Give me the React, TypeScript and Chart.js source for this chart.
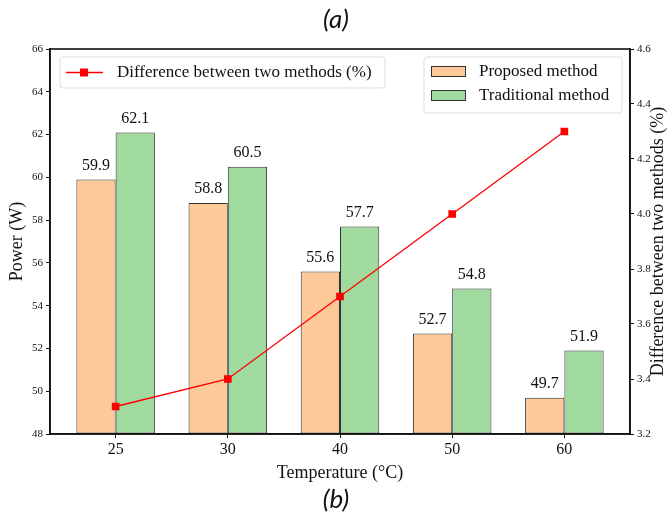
import React, { useEffect, useRef } from "react";
import { Chart, registerables } from "chart.js";

Chart.register(...registerables);

const categories = ["25", "30", "40", "50", "60"];
const proposed = [59.9, 58.8, 55.6, 52.7, 49.7];
const traditional = [62.1, 60.5, 57.7, 54.8, 51.9];
const difference = [3.3, 3.4, 3.7, 4.0, 4.3];
const leftTicks = [48, 50, 52, 54, 56, 58, 60, 62, 64, 66];
const rightTicks = [3.2, 3.4, 3.6, 3.8, 4.0, 4.2, 4.4, 4.6];

const ORANGE = "#fdc998";
const GREEN = "#a0da9e";
const EDGE = "#333333";
const RED = "#ff0000";
const SERIF = "'Liberation Serif', 'Times New Roman', serif";
const RIGHT_TITLE = "Difference between two methods (%)";

const decorPlugin = {
  id: "decor",
  afterDatasetsDraw(chart: any) {
    const ctx = chart.ctx;
    const ca = chart.chartArea;
    ctx.save();
    ctx.font = `16px ${SERIF}`;
    ctx.fillStyle = "#111";
    ctx.textAlign = "center";
    ctx.textBaseline = "bottom";
    [0, 1].forEach((di) => {
      const meta = chart.getDatasetMeta(di);
      const vals = di === 0 ? proposed : traditional;
      meta.data.forEach((el: any, i: number) => {
        ctx.fillText(vals[i].toFixed(1), el.x, el.y - 6);
      });
    });
    ctx.restore();
    ctx.save();
    ctx.strokeStyle = "#111";
    ctx.lineWidth = 1.6;
    ctx.strokeRect(ca.left, ca.top, ca.right - ca.left, ca.bottom - ca.top);
    ctx.restore();
  },
  afterDraw(chart: any) {
    const ctx = chart.ctx;
    const ca = chart.chartArea;
    const rr = (x: number, y: number, w: number, h: number, r: number) => {
      ctx.beginPath();
      ctx.moveTo(x + r, y);
      ctx.lineTo(x + w - r, y);
      ctx.quadraticCurveTo(x + w, y, x + w, y + r);
      ctx.lineTo(x + w, y + h - r);
      ctx.quadraticCurveTo(x + w, y + h, x + w - r, y + h);
      ctx.lineTo(x + r, y + h);
      ctx.quadraticCurveTo(x, y + h, x, y + h - r);
      ctx.lineTo(x, y + r);
      ctx.quadraticCurveTo(x, y, x + r, y);
      ctx.closePath();
    };
    ctx.save();
    const lx = ca.left + 10, ly = ca.top + 8;
    rr(lx, ly, 325, 31, 3);
    ctx.fillStyle = "rgba(255,255,255,0.85)";
    ctx.fill();
    ctx.strokeStyle = "#dddddd";
    ctx.lineWidth = 1;
    ctx.stroke();
    ctx.strokeStyle = RED;
    ctx.lineWidth = 1.5;
    ctx.beginPath();
    ctx.moveTo(lx + 6, ly + 15.5);
    ctx.lineTo(lx + 43, ly + 15.5);
    ctx.stroke();
    ctx.fillStyle = RED;
    ctx.fillRect(lx + 20, ly + 11.5, 8, 8);
    ctx.fillStyle = "#111";
    ctx.font = `17px ${SERIF}`;
    ctx.textAlign = "left";
    ctx.textBaseline = "middle";
    ctx.fillText("Difference between two methods (%)", lx + 57, ly + 16);
    const rx = 424, ry = ca.top + 8;
    rr(rx, ry, 198, 56, 3);
    ctx.fillStyle = "rgba(255,255,255,0.85)";
    ctx.fill();
    ctx.strokeStyle = "#dddddd";
    ctx.lineWidth = 1;
    ctx.stroke();
    const items = [
      { c: ORANGE, t: "Proposed method", y: ry + 9 },
      { c: GREEN, t: "Traditional method", y: ry + 33 },
    ];
    items.forEach((it) => {
      ctx.fillStyle = it.c;
      ctx.fillRect(rx + 7, it.y, 35, 11);
      ctx.strokeStyle = EDGE;
      ctx.lineWidth = 1;
      ctx.strokeRect(rx + 7.5, it.y + 0.5, 34, 10);
      ctx.fillStyle = "#111";
      ctx.font = `17px ${SERIF}`;
      ctx.textAlign = "left";
      ctx.textBaseline = "middle";
      ctx.fillText(it.t, rx + 55, it.y + 6);
    });
    // right axis title, reading bottom-to-top
    ctx.save();
    ctx.translate(658, (ca.top + ca.bottom) / 2);
    ctx.rotate(-Math.PI / 2);
    ctx.font = `18px ${SERIF}`;
    ctx.fillStyle = "#111";
    ctx.textAlign = "center";
    ctx.textBaseline = "middle";
    ctx.fillText(RIGHT_TITLE, 0, 0);
    ctx.restore();
    // panel captions
    ctx.fillStyle = "#111";
    ctx.font = "italic 26px Lato, 'Open Sans', sans-serif";
    ctx.textAlign = "center";
    ctx.textBaseline = "middle";
    ctx.fillText("(a)", 336, 20);
    ctx.fillText("(b)", 336, 500);
    ctx.restore();
  },
};

export default function App() {
  const ref = useRef<HTMLCanvasElement | null>(null);
  useEffect(() => {
    if (!ref.current) return;
    const chart = new Chart(ref.current, {
      type: "bar",
      data: {
        datasets: [
          {
            type: "bar",
            label: "Proposed method",
            data: proposed.map((v, i) => ({ x: i, y: v })),
            backgroundColor: ORANGE,
            borderColor: EDGE,
            borderWidth: 1,
            borderSkipped: false,
            base: 48,
            yAxisID: "y",
            order: 2,
            categoryPercentage: 0.7,
            barPercentage: 1,
          } as any,
          {
            type: "bar",
            label: "Traditional method",
            data: traditional.map((v, i) => ({ x: i, y: v })),
            backgroundColor: GREEN,
            borderColor: EDGE,
            borderWidth: 1,
            borderSkipped: false,
            base: 48,
            yAxisID: "y",
            order: 2,
            categoryPercentage: 0.7,
            barPercentage: 1,
          } as any,
          {
            type: "line",
            label: "Difference between two methods (%)",
            data: difference.map((v, i) => ({ x: i, y: v })),
            borderColor: RED,
            backgroundColor: RED,
            borderWidth: 1.3,
            pointStyle: "rect",
            pointRadius: 4.5,
            pointHoverRadius: 4.5,
            yAxisID: "y1",
            order: 0,
          } as any,
        ],
      },
      options: {
        animation: false,
        responsive: false,
        maintainAspectRatio: false,
        layout: { padding: { top: 49, bottom: 33, left: 0, right: 0 } },
        plugins: {
          legend: { display: false },
          tooltip: { enabled: false },
        },
        scales: {
          x: {
            type: "linear",
            min: -0.585,
            max: 4.585,
            offset: false,
            afterBuildTicks: (s: any) => {
              s.ticks = categories.map((_, i) => ({ value: i }));
            },
            afterFit: (s: any) => {
              s.height = 50;
            },
            ticks: {
              callback: (v: any) => categories[Math.round(Number(v))] ?? "",
              font: { family: SERIF, size: 16 },
              color: "#111",
              padding: 2,
              maxRotation: 0,
            },
            grid: { display: true, offset: false, drawOnChartArea: false, drawTicks: true, tickLength: 4, color: "#111", lineWidth: 1 },
            border: { display: true, color: "#111", width: 1.6 },
            title: {
              display: true,
              text: "Temperature (°C)",
              font: { family: SERIF, size: 18 },
              color: "#111",
              padding: { top: 0, bottom: 0 },
            },
          } as any,
          y: {
            type: "linear",
            position: "left",
            min: 48,
            max: 66,
            afterBuildTicks: (s: any) => {
              s.ticks = leftTicks.map((v) => ({ value: v }));
            },
            afterFit: (s: any) => {
              s.width = 50;
            },
            ticks: {
              font: { family: SERIF, size: 11 },
              color: "#111",
              padding: 3,
            },
            grid: { display: true, drawOnChartArea: false, drawTicks: true, tickLength: 4, color: "#111" },
            border: { display: true, color: "#111", width: 1.6 },
            title: {
              display: true,
              text: "Power (W)",
              font: { family: SERIF, size: 18 },
              color: "#111",
              padding: { top: 6, bottom: 0 },
            },
          } as any,
          y1: {
            type: "linear",
            position: "right",
            min: 3.2,
            max: 4.6,
            afterBuildTicks: (s: any) => {
              s.ticks = rightTicks.map((v) => ({ value: v }));
            },
            afterFit: (s: any) => {
              s.width = 42;
            },
            ticks: {
              font: { family: SERIF, size: 11 },
              color: "#111",
              padding: 3,
              callback: (v: any) => Number(v).toFixed(1),
            },
            grid: { display: true, drawOnChartArea: false, drawTicks: true, tickLength: 4, color: "#111" },
            border: { display: true, color: "#111", width: 1.6 },
            title: { display: false },
          } as any,
        },
      },
      plugins: [decorPlugin],
    });
    return () => chart.destroy();
  }, []);
  return (
    <div style={{ position: "fixed", left: 0, top: 0, width: 672, height: 517, background: "#fff" }}>
      <canvas ref={ref} width={672} height={517} style={{ display: "block", width: 672, height: 517 }} />
    </div>
  );
}
